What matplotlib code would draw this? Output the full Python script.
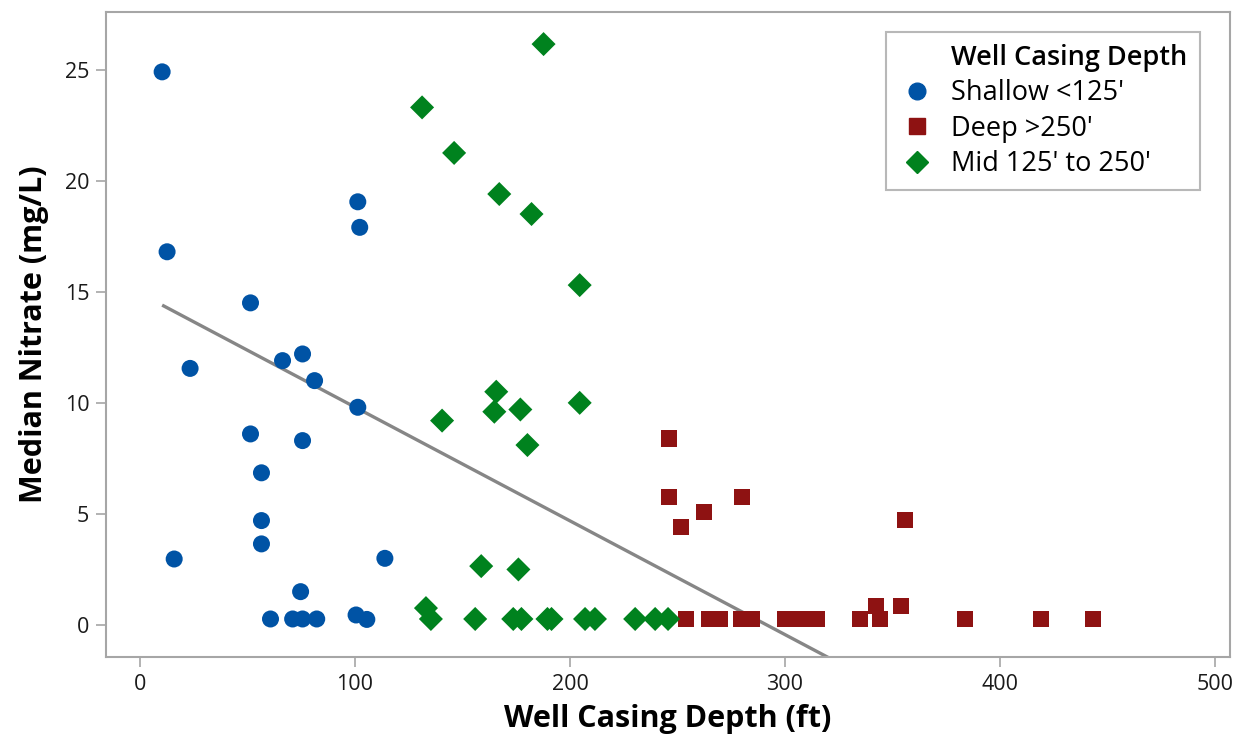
import numpy as np
import matplotlib
matplotlib.use("Agg")
import matplotlib.pyplot as plt
from matplotlib.lines import Line2D

plt.rcParams['font.family'] = ['Open Sans', 'DejaVu Sans']

# ---- data ----
shallow_x = [10.3, 12.6, 15.9, 23.3, 51.4, 51.4, 56.5, 56.5, 56.5, 66.3, 75.6, 81.2,
             75.6, 74.7, 101.3, 102.2, 101.3, 113.9, 60.7, 71.0, 75.6, 82.2, 100.5, 105.5]
shallow_y = [24.9, 16.8, 2.97, 11.55, 14.5, 8.6, 6.85, 4.7, 3.65, 11.9, 12.2, 11.0,
             8.3, 1.5, 19.05, 17.9, 9.8, 3.0, 0.27, 0.27, 0.27, 0.27, 0.45, 0.25]

deep_x = [246.0, 246.0, 251.6, 262.3, 280.0, 355.8, 254.0, 264.7, 269.8, 279.5, 284.7,
          300.0, 307.4, 314.9, 334.9, 344.2, 342.3, 354.0, 383.7, 419.0, 443.3]
deep_y = [8.4, 5.75, 4.4, 5.08, 5.75, 4.72, 0.27, 0.27, 0.27, 0.27, 0.27,
          0.27, 0.27, 0.27, 0.27, 0.27, 0.85, 0.85, 0.27, 0.27, 0.27]

mid_x = [131.2, 146.1, 187.7, 167.1, 182.1, 204.5, 165.7, 164.8, 176.9, 140.5, 180.2,
         204.5, 158.7, 176.0, 133.0, 135.3, 155.9, 173.6, 177.4, 189.5, 191.4, 207.0,
         211.6, 230.3, 239.6, 245.6]
mid_y = [23.3, 21.25, 26.15, 19.4, 18.5, 15.3, 10.5, 9.6, 9.7, 9.2, 8.1,
         10.0, 2.65, 2.5, 0.76, 0.27, 0.27, 0.27, 0.27, 0.27, 0.27, 0.27,
         0.27, 0.27, 0.27, 0.27]

# fitted line (end points)
trend_x = [10.3, 330.0]
trend_y = [14.4, -1.97]

x_ticks = [0, 100, 200, 300, 400, 500]
y_ticks = [0, 5, 10, 15, 20, 25]

blue = '#0053A5'
red = '#8E1212'
green = '#00821E'
gray_axis = '#A6A6A6'

fig = plt.figure(figsize=(12.4, 7.42), dpi=100)
ax = fig.add_axes([0.0855, 0.1146, 0.9065, 0.8694])

ax.plot(trend_x, trend_y, color='#868686', lw=2.4, zorder=1, solid_capstyle='butt')
ax.scatter(shallow_x, shallow_y, s=150, marker='o', color=blue, edgecolors='none', zorder=3)
ax.scatter(deep_x, deep_y, s=140, marker='s', color=red, edgecolors='none', zorder=3)
ax.scatter(mid_x, mid_y, s=150, marker='D', color=green, edgecolors='none', zorder=3)

ax.set_xlim(-15.8, 507)
ax.set_ylim(-1.44, 27.6)
ax.set_xticks(x_ticks)
ax.set_yticks(y_ticks)

for sp in ax.spines.values():
    sp.set_color(gray_axis)
    sp.set_linewidth(1.5)
ax.tick_params(axis='both', direction='out', length=7, width=1.2, color=gray_axis,
               labelsize=15.5, labelcolor='#1A1A1A', pad=5)

ax.set_xlabel('Well Casing Depth (ft)', fontsize=22, fontweight='bold', labelpad=7)
ax.set_ylabel('Median Nitrate (mg/L)', fontsize=22, fontweight='bold', labelpad=11)

# legend with the title as the first row
blank = Line2D([], [], linestyle='none', marker=None)
h1 = Line2D([], [], linestyle='none', marker='o', color=blue, markersize=12)
h2 = Line2D([], [], linestyle='none', marker='s', color=red, markersize=12)
h3 = Line2D([], [], linestyle='none', marker='D', color=green, markersize=11)
leg = ax.legend([blank, h1, h2, h3],
                ['Well Casing Depth', "Shallow <125'", "Deep >250'", "Mid 125' to 250'"],
                loc='upper right', bbox_to_anchor=(0.973, 0.969), fontsize=19.5,
                frameon=True, fancybox=False, handletextpad=0.55, handlelength=1.4,
                labelspacing=0.27, borderpad=0.45, borderaxespad=0)
leg.get_frame().set_edgecolor(gray_axis)
leg.get_frame().set_linewidth(1.5)
leg.get_texts()[0].set_fontweight('semibold')

fig.savefig('out.png', dpi=100)
